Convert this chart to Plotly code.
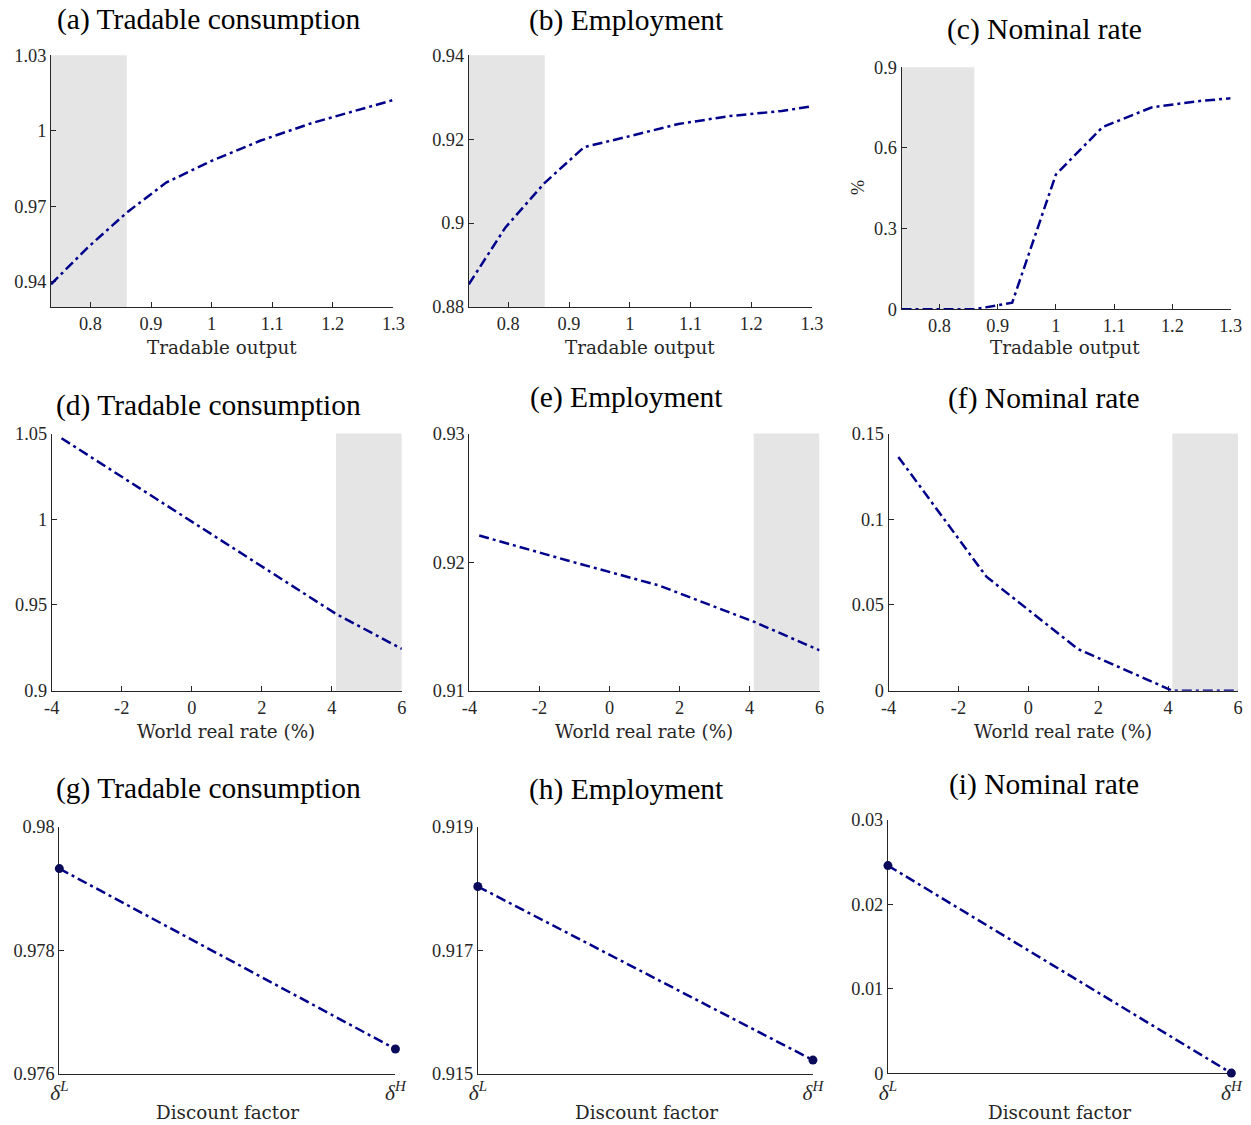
import plotly.graph_objects as go

# ---------------- data ----------------
out_grid = [0.735, 0.795, 0.86, 0.925, 1.0, 1.08, 1.165, 1.25, 1.3]
a_cons = [0.939, 0.9535, 0.9675, 0.9794, 0.988, 0.996, 1.003, 1.0088, 1.0122]
b_emp = [0.8854, 0.8989, 0.9096, 0.9181, 0.9207, 0.9236, 0.9255, 0.9267, 0.9278]
c_rate = [0.0, 0.0, 0.0, 0.0245, 0.501, 0.677, 0.751, 0.775, 0.784]

rate_grid = [-3.72, -1.2, 1.42, 4.12, 6.0]
d_cons = [1.0473, 1.0143, 0.9798, 0.9448, 0.9244]
e_emp = [0.92207, 0.92013, 0.91818, 0.91537, 0.91314]
f_rate = [0.1364, 0.0665, 0.0243, 0.0, 0.0]

disc_grid = [0, 1]
disc_labels = ["<i>δ</i><sup><i>L</i></sup>", "<i>δ</i><sup><i>H</i></sup>"]
g_cons = [0.97932, 0.97640]
h_emp = [0.91803, 0.91522]
i_rate = [0.02456, 0.0]

shade_out = [0.735, 0.86]
shade_rate = [4.12, 6.0]

out_ticks = [0.8, 0.9, 1.0, 1.1, 1.2, 1.3]
out_ticklabels = ["0.8", "0.9", "1", "1.1", "1.2", "1.3"]
rate_ticks = [-4, -2, 0, 2, 4, 6]
rate_ticklabels = ["-4", "-2", "0", "2", "4", "6"]

titles = ["(a) Tradable consumption", "(b) Employment", "(c) Nominal rate",
          "(d) Tradable consumption", "(e) Employment", "(f) Nominal rate",
          "(g) Tradable consumption", "(h) Employment", "(i) Nominal rate"]
xlabels = ["Tradable output"] * 3 + ["World real rate (%)"] * 3 + ["Discount factor"] * 3

# ---------------- layout constants ----------------
# the page is shown with an 8px body margin and a slight global scale
S = 0.983
OX, OY = 8.0, 8.8
W, H = 1256, 1128


def px(xp):
    return ((xp - OX) / S) / W


def py(yp):
    return 1 - ((yp - OY) / S) / H


def fs(size):
    return size / S


# target pixel boxes of plot areas: (left, right, top, bottom)
boxes = [
    (50, 392.3, 54, 306), (467.7, 810.7, 54, 306), (900.3, 1229.3, 66, 308.3),
    (50.7, 400.7, 432.7, 690), (468.3, 818.3, 432.7, 690), (887.3, 1236.7, 432.7, 690),
    (58.3, 394.3, 826, 1073.3), (476.7, 811.7, 826, 1073.3), (886.7, 1230, 819, 1072.7),
]
title_pos = [(207, 18), (625, 19), (1043, 28), (207, 405), (625, 397), (1043, 398),
             (207, 788), (625, 789), (1043, 784)]
xlabel_pos = [(221, 347), (639, 347), (1064, 347), (225, 731), (643, 731), (1062, 731),
              (226, 1112), (645, 1112), (1058, 1112)]

yranges = [(0.93, 1.03), (0.88, 0.94), (0, 0.9), (0.9, 1.05), (0.91, 0.93), (0, 0.15),
           (0.976, 0.98), (0.915, 0.919), (0, 0.03)]
yticks = [[0.94, 0.97, 1.0, 1.03], [0.88, 0.9, 0.92, 0.94], [0, 0.3, 0.6, 0.9],
          [0.9, 0.95, 1.0, 1.05], [0.91, 0.92, 0.93], [0, 0.05, 0.1, 0.15],
          [0.976, 0.978, 0.98], [0.915, 0.917, 0.919], [0, 0.01, 0.02, 0.03]]
yticklabels = [["0.94", "0.97", "1", "1.03"], ["0.88", "0.9", "0.92", "0.94"], ["0", "0.3", "0.6", "0.9"],
               ["0.9", "0.95", "1", "1.05"], ["0.91", "0.92", "0.93"], ["0", "0.05", "0.1", "0.15"],
               ["0.976", "0.978", "0.98"], ["0.915", "0.917", "0.919"], ["0", "0.01", "0.02", "0.03"]]

xs = [out_grid] * 3 + [rate_grid] * 3 + [disc_grid] * 3
ys = [a_cons, b_emp, c_rate, d_cons, e_emp, f_rate, g_cons, h_emp, i_rate]
xranges = [(0.735, 1.3)] * 3 + [(-4, 6)] * 3 + [(0, 1)] * 3
xtickvals = [out_ticks] * 3 + [rate_ticks] * 3 + [disc_grid] * 3
xticktexts = [out_ticklabels] * 3 + [rate_ticklabels] * 3 + [disc_labels] * 3

LINE_COLOR = "#00008b"
AX_COLOR = "#262626"
TICK_FONT = dict(family="Liberation Serif", size=fs(18), color=AX_COLOR)
DELTA_FONT = dict(family="Liberation Serif", size=fs(21), color=AX_COLOR)

fig = go.Figure()
layout = dict(
    width=W, height=H, margin=dict(l=0, r=0, t=0, b=0),
    paper_bgcolor="white", plot_bgcolor="white", showlegend=False,
    annotations=[], shapes=[],
)

for k in range(9):
    idx = "" if k == 0 else str(k + 1)
    l, r, t, b = boxes[k]
    is_disc = k >= 6
    xa = dict(
        domain=[px(l), px(r)], range=list(xranges[k]), anchor="y" + idx,
        showline=True, linecolor=AX_COLOR, linewidth=1, ticks="inside", ticklen=5,
        tickcolor=AX_COLOR, showgrid=False, zeroline=False,
        tickfont=DELTA_FONT if is_disc else TICK_FONT,
        tickmode="array", tickvals=xtickvals[k], ticktext=xticktexts[k],
        layer="below traces", fixedrange=True,
    )
    ya = dict(
        domain=[py(b), py(t)], range=list(yranges[k]), anchor="x" + idx,
        showline=True, linecolor=AX_COLOR, linewidth=1, ticks="inside", ticklen=5,
        tickcolor=AX_COLOR, showgrid=False, zeroline=False, tickfont=TICK_FONT,
        tickmode="array", tickvals=yticks[k], ticktext=yticklabels[k],
        layer="below traces", fixedrange=True,
    )
    layout["xaxis" + idx] = xa
    layout["yaxis" + idx] = ya

    fig.add_trace(go.Scatter(
        x=xs[k], y=ys[k], xaxis="x" + idx, yaxis="y" + idx,
        mode="lines+markers" if is_disc else "lines",
        line=dict(color=LINE_COLOR, width=2.5, dash="10px,4px,3px,4px"),
        marker=dict(color="#0a0a5a", size=9) if is_disc else None,
        cliponaxis=False, hoverinfo="skip",
    ))

    if k < 6:
        sx = shade_out if k < 3 else shade_rate
        layout["shapes"].append(dict(
            type="rect", xref="x" + idx, yref="y" + idx + " domain",
            x0=sx[0], x1=sx[1], y0=0, y1=1,
            fillcolor="#e5e5e5", line=dict(width=0), layer="below",
        ))

    cx, cy = title_pos[k]
    layout["annotations"].append(dict(
        text=titles[k], x=px(cx), y=py(cy), xref="paper", yref="paper",
        xanchor="center", yanchor="middle", showarrow=False,
        font=dict(family="Liberation Serif", size=fs(29), color="black"),
    ))
    lx, ly = xlabel_pos[k]
    layout["annotations"].append(dict(
        text=xlabels[k], x=px(lx), y=py(ly), xref="paper", yref="paper",
        xanchor="center", yanchor="middle", showarrow=False,
        font=dict(family="DejaVu Serif", size=fs(18), color=AX_COLOR),
    ))

layout["annotations"].append(dict(
    text="%", x=px(856.7), y=py(186), xref="paper", yref="paper",
    xanchor="center", yanchor="middle", showarrow=False, textangle=-90,
    font=dict(family="Liberation Serif", size=fs(18), color=AX_COLOR),
))

fig.update_layout(**layout)
fig.write_html("out.html")
